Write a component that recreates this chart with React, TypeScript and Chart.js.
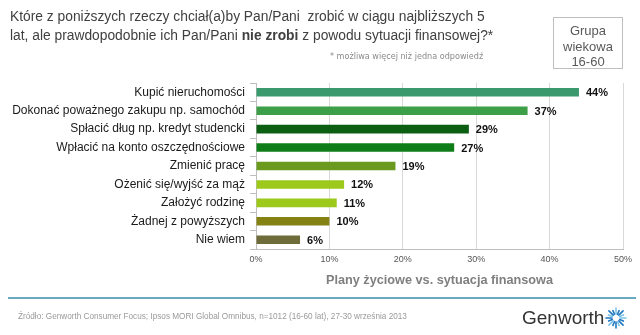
import React, { useEffect, useRef } from "react";
import { Chart, registerables } from "chart.js";

Chart.register(...registerables);

const categories = [
  "Kupić nieruchomości",
  "Dokonać poważnego zakupu np. samochód",
  "Spłacić dług np. kredyt studencki",
  "Wpłacić na konto oszczędnościowe",
  "Zmienić pracę",
  "Ożenić się/wyjść za mąż",
  "Założyć rodzinę",
  "Żadnej z powyższych",
  "Nie wiem",
];
const values = [44, 37, 29, 27, 19, 12, 11, 10, 6];
const barColors = [
  "#3a9a6e",
  "#3d9f47",
  "#0b5e12",
  "#0e7d18",
  "#6b9a1f",
  "#9dc81c",
  "#9dc81c",
  "#858214",
  "#6e6c3a",
];
const axisTitle = "Plany życiowe vs. sytuacja finansowa";
const xMax = 50;
const xStep = 10;

const FONT = "'Liberation Sans', Arial, sans-serif";

const valueLabels = {
  id: "valueLabels",
  afterDatasetsDraw(chart: any) {
    const ctx = chart.ctx;
    const meta = chart.getDatasetMeta(0);
    ctx.save();
    ctx.font = `bold 11px ${FONT}`;
    ctx.fillStyle = "#111111";
    ctx.textBaseline = "middle";
    ctx.textAlign = "left";
    meta.data.forEach((bar: any, i: number) => {
      ctx.fillText(values[i] + "%", bar.x + 7, bar.y + 1);
    });
    ctx.restore();
  },
};

function Star() {
  const rays = [];
  for (let i = 0; i < 16; i++) {
    const a = (i / 16) * Math.PI * 2;
    const r1 = 4;
    const r2 = i % 2 === 0 ? 10 : 8;
    rays.push(
      <line
        key={i}
        x1={12 + Math.cos(a) * r1}
        y1={12 + Math.sin(a) * r1}
        x2={12 + Math.cos(a) * r2}
        y2={12 + Math.sin(a) * r2}
        stroke={i % 3 === 0 ? "#7fc3e8" : "#1f78c1"}
        strokeWidth={1.6}
        strokeLinecap="round"
      />
    );
  }
  return (
    <svg width={24} height={24} style={{ position: "absolute", left: 604, top: 306 }}>
      {rays}
    </svg>
  );
}

export default function App() {
  const ref = useRef<HTMLCanvasElement>(null);

  useEffect(() => {
    if (!ref.current) return;
    const chart = new Chart(ref.current, {
      type: "bar",
      data: {
        labels: categories,
        datasets: [
          {
            data: values,
            backgroundColor: barColors,
            borderWidth: 0,
            barPercentage: 0.93,
            categoryPercentage: 0.5,
          },
        ],
      },
      options: {
        indexAxis: "y",
        responsive: false,
        animation: false,
        layout: { padding: { left: 0, right: 17, top: 83, bottom: 46 } },
        plugins: { legend: { display: false }, tooltip: { enabled: false } },
        scales: {
          x: {
            min: 0,
            max: xMax,
            ticks: {
              stepSize: xStep,
              callback: (v: any) => v + "%",
              font: { family: FONT, size: 9 },
              color: "#555555",
              padding: 5,
            },
            grid: { color: "#d9d9d9", drawTicks: false },
            border: { color: "#bfbfbf" },
            title: {
              display: true,
              text: axisTitle,
              font: { family: FONT, size: 12.7, weight: "bold" },
              color: "#7f7f7f",
              padding: { top: 0, bottom: 1 },
            },
            afterFit: (scale: any) => {
              scale.height = 40;
            },
          },
          y: {
            ticks: {
              font: { family: FONT, size: 12 },
              color: "#1a1a1a",
              padding: 5,
            },
            grid: {
              drawOnChartArea: false,
              drawTicks: true,
              tickLength: 6,
              color: "#bfbfbf",
            },
            border: { color: "#bfbfbf" },
            afterFit: (scale: any) => {
              scale.width = 256;
            },
          },
        },
      },
      plugins: [valueLabels],
    });
    return () => chart.destroy();
  }, []);

  return (
    <div
      style={{
        position: "fixed",
        left: 0,
        top: 0,
        width: 640,
        height: 335,
        background: "#ffffff",
        fontFamily: FONT,
        overflow: "hidden",
      }}
    >
      <canvas ref={ref} width={640} height={335} style={{ position: "absolute", left: 0, top: 0 }} />
      <div
        style={{
          position: "absolute",
          left: 10,
          top: 7,
          fontSize: 13.8,
          lineHeight: "19px",
          color: "#404040",
          whiteSpace: "nowrap",
        }}
      >
        Które z poniższych rzeczy chciał(a)by Pan/Pani&nbsp; zrobić w ciągu najbliższych 5
        <br />
        lat, ale prawdopodobnie ich Pan/Pani <b>nie zrobi</b> z powodu sytuacji finansowej?*
      </div>
      <div
        style={{
          position: "absolute",
          left: 330,
          top: 51,
          fontSize: 9,
          color: "#8a8a8a",
          fontFamily: "'DejaVu Sans Condensed', 'Liberation Sans', sans-serif",
          whiteSpace: "nowrap",
        }}
      >
        * możliwa więcej niż jedna odpowiedź
      </div>
      <div
        style={{
          position: "absolute",
          left: 553,
          top: 17,
          width: 68,
          height: 45,
          border: "1px solid #bfbfbf",
          textAlign: "center",
          fontSize: 13,
          lineHeight: "15.5px",
          color: "#595959",
          paddingTop: 5,
          boxSizing: "content-box",
        }}
      >
        Grupa
        <br />
        wiekowa
        <br />
        16-60
      </div>
      <div
        style={{
          position: "absolute",
          left: 8,
          top: 297,
          width: 628,
          height: 2,
          background: "#6aaac0",
        }}
      />
      <div
        style={{
          position: "absolute",
          left: 18,
          top: 312,
          fontSize: 8.2,
          color: "#9a9a9a",
          whiteSpace: "nowrap",
        }}
      >
        Źródło: Genworth Consumer Focus; Ipsos MORI Global Omnibus, n=1012 (16-60 lat), 27-30 września 2013
      </div>
      <div
        style={{
          position: "absolute",
          left: 522,
          top: 306,
          fontSize: 19,
          color: "#333333",
          whiteSpace: "nowrap",
          lineHeight: "24px",
        }}
      >
        Genworth
      </div>
      <Star />
    </div>
  );
}
